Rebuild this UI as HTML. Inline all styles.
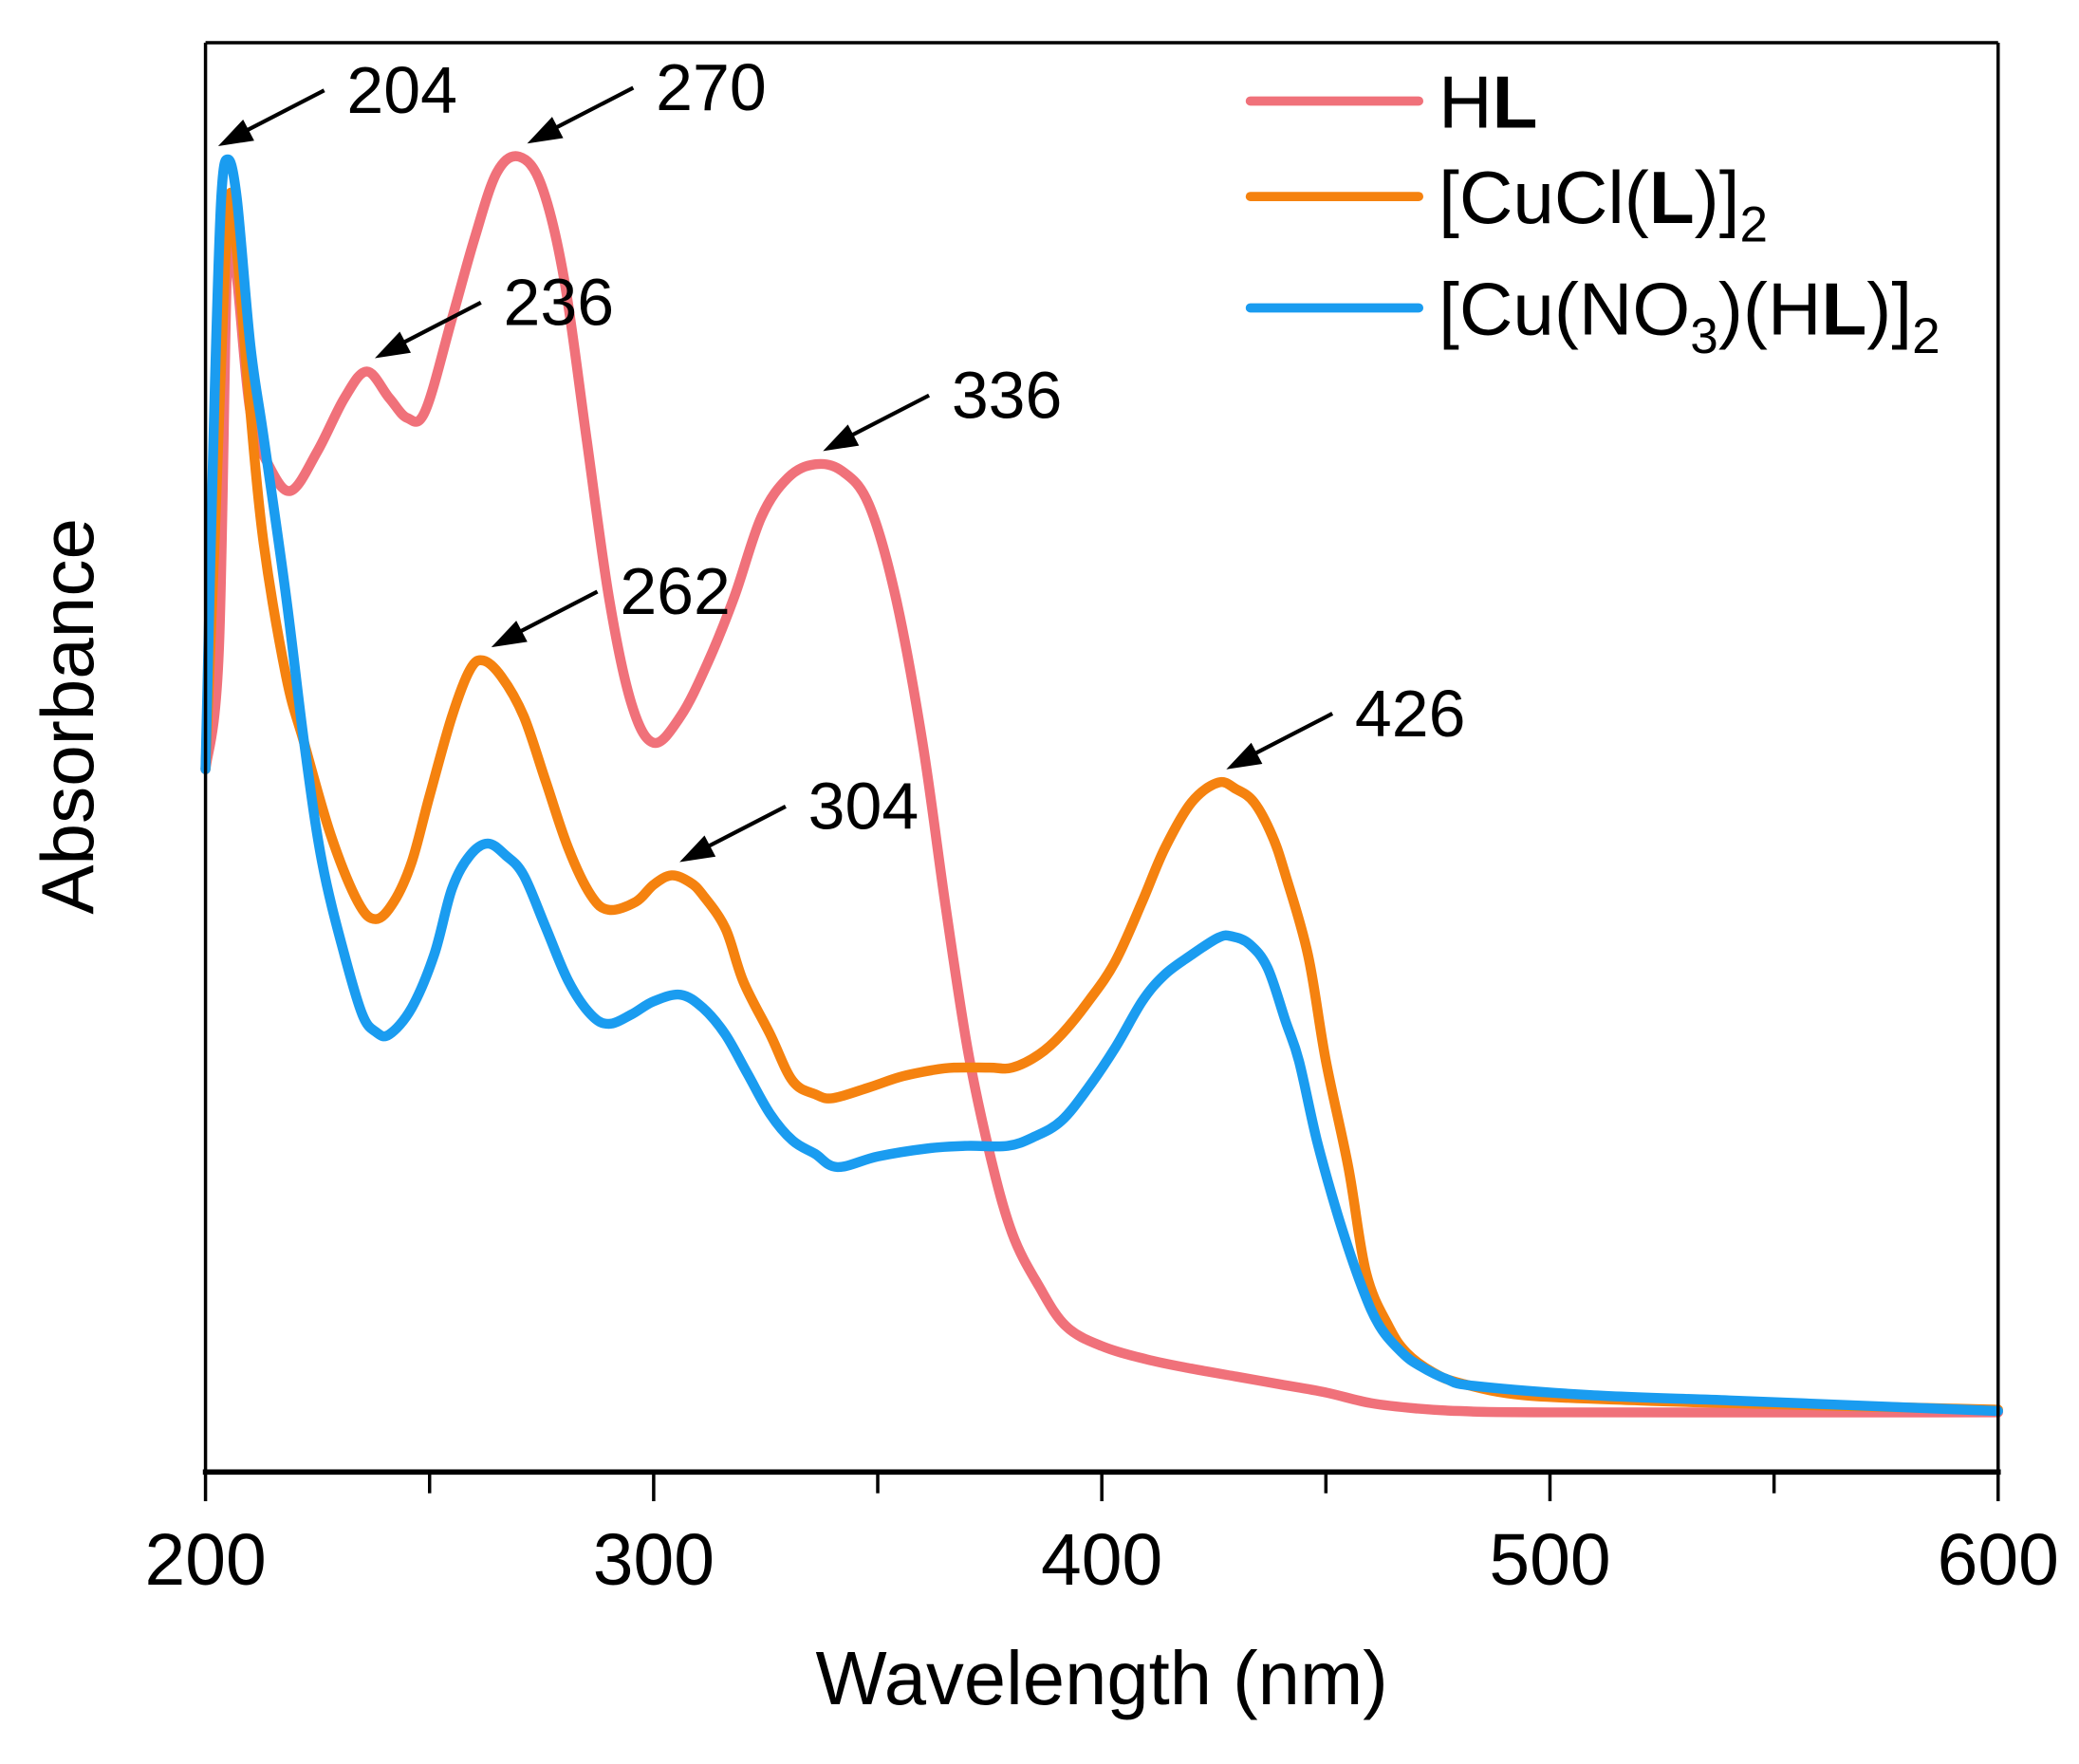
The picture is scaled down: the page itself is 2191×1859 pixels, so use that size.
<!DOCTYPE html>
<html><head><meta charset="utf-8"><style>
html,body{margin:0;padding:0;background:#fff;}
svg{display:block;font-family:"Liberation Sans",Arial,sans-serif;}
</style></head><body>
<svg id="chart" width="2191" height="1859" viewBox="0 0 1568 1330" xmlns="http://www.w3.org/2000/svg">
<rect x="0" y="0" width="1568" height="1330" fill="#fff"/>
<g id="series"></g>
<g id="frame">
<line x1="155" y1="32" x2="1507" y2="32" stroke="#000" stroke-width="2.5"/>
<line x1="155" y1="32" x2="155" y2="1110" stroke="#000" stroke-width="2.5"/>
<line x1="1507" y1="32" x2="1507" y2="1110" stroke="#000" stroke-width="2.5"/>
<line x1="153" y1="1110" x2="1509" y2="1110" stroke="#000" stroke-width="4"/>
</g>
<g id="xticks"></g>
<text x="831" y="1285" font-size="57" text-anchor="middle">Wavelength (nm)</text>
<text transform="translate(70,540) rotate(-90)" font-size="56" text-anchor="middle">Absorbance</text>
<g id="annotations"></g>
<g>
<g>
<line x1="943" y1="76" x2="1070" y2="76" stroke="#f0717a" stroke-width="7" stroke-linecap="round"/>
<text x="1085" y="96" font-size="56">H<tspan font-weight="bold">L</tspan></text></g>
<g>
<line x1="943" y1="148" x2="1070" y2="148" stroke="#f5820f" stroke-width="7" stroke-linecap="round"/>
<text x="1085" y="168" font-size="56">[CuCl(<tspan font-weight="bold">L</tspan>)]<tspan font-size="38" dy="14">2</tspan></text></g>
<g>
<line x1="943" y1="232" x2="1070" y2="232" stroke="#1a9cf0" stroke-width="7" stroke-linecap="round"/>
<text x="1085" y="252" font-size="56">[Cu(NO<tspan font-size="38" dy="14">3</tspan><tspan dy="-14">)(H</tspan><tspan font-weight="bold">L</tspan>)]<tspan font-size="38" dy="14">2</tspan></text></g>
</g>
</svg>
<script>
const hlX=[200,203,205,207,210,214,219,225,231,236,241,245,249,255,260,265,270,275,280,285,290,295,300,306,312,318,324,330,336,342,348,354,360,365,370,375,380,386,392,400,410,420,430,440,450,460,470,480,500,600];
const hlY=[0.53,0.62,0.93,0.90,0.80,0.76,0.74,0.77,0.81,0.83,0.81,0.795,0.80,0.87,0.93,0.98,0.992,0.97,0.90,0.78,0.66,0.58,0.55,0.57,0.61,0.66,0.72,0.75,0.76,0.755,0.73,0.66,0.55,0.43,0.32,0.24,0.18,0.14,0.11,0.095,0.085,0.078,0.072,0.066,0.06,0.052,0.048,0.046,0.045,0.045];
const cuclX=[200,202,205,207,210,213,218,222,228,234,238,242,246,250,255,259,262,266,271,276,281,286,290,296,300,304,308,311,316,320,326,331,336,340,348,355,362,367,375,380,386,391,397,403,409,414,420,426,430,434,438,441,446,450,455,459,464,468,474,480,494,520,540,600];
const cuclY=[0.53,0.70,0.95,0.92,0.80,0.70,0.60,0.55,0.48,0.43,0.417,0.43,0.46,0.51,0.57,0.605,0.612,0.60,0.57,0.52,0.47,0.435,0.424,0.43,0.443,0.45,0.445,0.435,0.41,0.37,0.33,0.295,0.285,0.282,0.29,0.298,0.303,0.305,0.305,0.305,0.315,0.33,0.355,0.385,0.43,0.47,0.505,0.52,0.515,0.505,0.48,0.45,0.39,0.31,0.23,0.15,0.11,0.09,0.075,0.067,0.058,0.054,0.052,0.047];
const cunoX=[200,202,203.5,205,207,210,213,218,222,226,231,235,238,241,246,251,255,259,263,267,271,276,281,286,290,295,300,306,311,316,321,326,331,336,341,350,361,370,379,385,391,397,403,409,414,420,426,429,433,437,441,444,448,453,458,462,467,471,477,483,509,540,570,600];
const cunoY=[0.53,0.81,0.96,0.99,0.96,0.85,0.78,0.66,0.55,0.46,0.39,0.345,0.332,0.33,0.35,0.39,0.44,0.465,0.474,0.465,0.45,0.41,0.37,0.345,0.338,0.345,0.355,0.36,0.35,0.33,0.30,0.27,0.25,0.24,0.23,0.238,0.244,0.246,0.246,0.253,0.265,0.29,0.32,0.355,0.375,0.39,0.403,0.404,0.398,0.38,0.34,0.31,0.25,0.19,0.14,0.11,0.09,0.08,0.07,0.065,0.058,0.054,0.05,0.046];
const xTicks=[200,300,400,500,600];
const xMinor=[250,350,450,550];
const peakX=[204,270,236,336,262,304,426];
const peakLabels=["204","270","236","336","262","304","426"];
const peakY=[0.998,0.992,0.83,0.76,0.612,0.45,0.52];

const NS="http://www.w3.org/2000/svg";
function xs(w){return 155+(w-200)*(1507-155)/400;}
function ys(v){return 1110-v*1000;}
function path(X,Y){
  const P=X.map((x,i)=>[xs(x),ys(Y[i])]);
  let d="M"+P[0][0].toFixed(1)+","+P[0][1].toFixed(1);
  for(let i=0;i<P.length-1;i++){
    const p0=P[Math.max(0,i-1)],p1=P[i],p2=P[i+1],p3=P[Math.min(P.length-1,i+2)];
    const t=0.17;
    const c1=[p1[0]+(p2[0]-p0[0])*t,p1[1]+(p2[1]-p0[1])*t];
    const c2=[p2[0]-(p3[0]-p1[0])*t,p2[1]-(p3[1]-p1[1])*t];
    d+="C"+c1[0].toFixed(1)+","+c1[1].toFixed(1)+" "+c2[0].toFixed(1)+","+c2[1].toFixed(1)+" "+p2[0].toFixed(1)+","+p2[1].toFixed(1);
  }
  return d;}
const sg=document.getElementById("series");
const series=[[hlX,hlY,"#f0717a","series-hl"],[cuclX,cuclY,"#f5820f","series-cucl"],[cunoX,cunoY,"#1a9cf0","series-cuno3"]];
series.forEach(s=>{const p=document.createElementNS(NS,"path");p.setAttribute("d",path(s[0],s[1]));p.setAttribute("fill","none");p.setAttribute("stroke",s[2]);p.setAttribute("stroke-width","7.5");p.setAttribute("stroke-linejoin","round");p.setAttribute("stroke-linecap","round");


sg.appendChild(p);});
const tg=document.getElementById("xticks");
xTicks.forEach(t=>{const l=document.createElementNS(NS,"line");l.setAttribute("x1",xs(t));l.setAttribute("x2",xs(t));l.setAttribute("y1",1110);l.setAttribute("y2",1132);l.setAttribute("stroke","#000");l.setAttribute("stroke-width","2.5");


tg.appendChild(l);
const tx=document.createElementNS(NS,"text");tx.setAttribute("x",xs(t));tx.setAttribute("y",1195);tx.setAttribute("font-size","55");tx.setAttribute("text-anchor","middle");tx.textContent=t;


tg.appendChild(tx);});
xMinor.forEach(t=>{const l=document.createElementNS(NS,"line");l.setAttribute("x1",xs(t));l.setAttribute("x2",xs(t));l.setAttribute("y1",1110);l.setAttribute("y2",1126);l.setAttribute("stroke","#000");l.setAttribute("stroke-width","2.5");


tg.appendChild(l);});
const ag=document.getElementById("annotations");
peakX.forEach((w,i)=>{const tx0=xs(w)+(i===0?-4:6),ty0=ys(peakY[i])-(i===0?2:10);const ex=tx0+80,ey=ty0-42;
const g=document.createElementNS(NS,"g");


const l=document.createElementNS(NS,"line");l.setAttribute("x1",ex);l.setAttribute("y1",ey);l.setAttribute("x2",tx0+18);l.setAttribute("y2",ty0-10);l.setAttribute("stroke","#000");l.setAttribute("stroke-width","3");g.appendChild(l);
const a=Math.atan2(ey-ty0,ex-tx0);const L=26,W=9;const bx=tx0+L*Math.cos(a),by=ty0+L*Math.sin(a);
const pg=document.createElementNS(NS,"polygon");pg.setAttribute("points",tx0+","+ty0+" "+(bx-W*Math.sin(a))+","+(by+W*Math.cos(a))+" "+(bx+W*Math.sin(a))+","+(by-W*Math.cos(a)));pg.setAttribute("fill","#000");g.appendChild(pg);
const t=document.createElementNS(NS,"text");t.setAttribute("x",ex+17);t.setAttribute("y",ey+17);t.setAttribute("font-size","50");t.textContent=peakLabels[i];g.appendChild(t);
ag.appendChild(g);});
</script>
</body></html>
